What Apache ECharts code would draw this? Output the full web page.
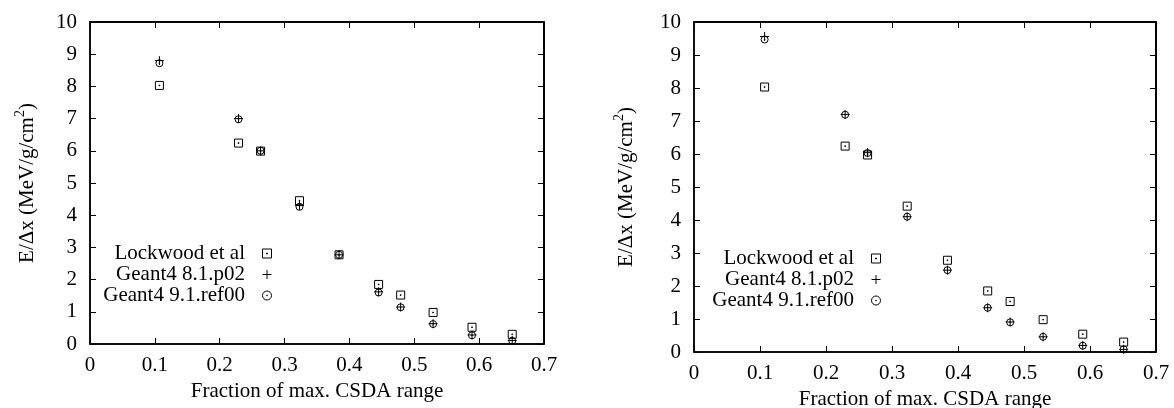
<!DOCTYPE html>
<html>
<head>
<meta charset="utf-8">
<script src="https://cdn.jsdelivr.net/npm/echarts@6/dist/echarts.min.js"></script>
<style>
  html, body { margin: 0; padding: 0; background: #fff; }
  #chart { width: 1174px; height: 408px; }
</style>
</head>
<body>
<div id="chart"></div>
<script>
// fraction of max. CSDA range (same for every series)
var fractions = [0.107, 0.229, 0.263, 0.323, 0.384, 0.445, 0.479, 0.529, 0.589, 0.651];

// left panel
var leftLockwood = [8.03, 6.24, 5.99, 4.45, 2.77, 1.85, 1.52, 0.98, 0.52, 0.30];
var leftG4_81 = [8.80, 7.00, 6.00, 4.30, 2.77, 1.62, 1.15, 0.63, 0.28, 0.11];
var leftG4_91 = [8.72, 6.98, 6.00, 4.26, 2.77, 1.60, 1.14, 0.62, 0.27, 0.10];

// right panel
var rightLockwood = [8.03, 6.24, 5.97, 4.42, 2.78, 1.85, 1.53, 0.98, 0.54, 0.30];
var rightG4_81 = [9.56, 7.20, 6.04, 4.10, 2.48, 1.34, 0.91, 0.46, 0.20, 0.08];
var rightG4_91 = [9.47, 7.19, 6.03, 4.10, 2.48, 1.34, 0.90, 0.46, 0.19, 0.08];

var seriesNames = ['Lockwood et al', 'Geant4 8.1.p02', 'Geant4 9.1.ref00'];
var xTitle = 'Fraction of max. CSDA range';
var yTitle = 'E/Δx (MeV/g/cm{sup|2})';
var xMax = 0.7, yMax = 10;

var SQUARE = 'path://M0,0L10,0L10,10L0,10Z M4.5,4.5L5.5,4.5L5.5,5.5L4.5,5.5Z';
var PLUS = 'path://M5,0L5,10M0,5L10,5';
var CIRCLE = 'path://M0,5A5,5,0,1,1,10,5A5,5,0,1,1,0,5Z M4.5,5A0.5,0.5,0,1,1,5.5,5A0.5,0.5,0,1,1,4.5,5Z';
var symbols = [SQUARE, PLUS, CIRCLE];
var symSizes = [8, 9, 7];

var FONT = 'Liberation Serif';
var FS = 21;

function pairs(ys) {
  return fractions.map(function (x, i) { return [x, ys[i]]; });
}

var chart = echarts.init(document.getElementById('chart'));

var grids = [
  { left: 90, top: 22, width: 454, height: 322, outerBoundsMode: 'none', show: true, borderColor: '#000', borderWidth: 1.5 },
  { left: 694, top: 22, width: 462, height: 330, outerBoundsMode: 'none', show: true, borderColor: '#000', borderWidth: 1.5 }
];

function axisLine() {
  return { show: true, onZero: false, lineStyle: { color: '#000', width: 1.5 } };
}
function axisTick() {
  return { show: true, inside: true, length: 6, lineStyle: { color: '#000', width: 1 } };
}

var xAxes = [], yAxes = [];
var yGaps = [49, 54];
var xGaps = [34, 35];
grids.forEach(function (g, i) {
  xAxes.push({
    gridIndex: i, type: 'value', min: 0, max: xMax, interval: 0.1,
    name: xTitle, nameLocation: 'middle', nameGap: xGaps[i],
    nameTextStyle: { fontFamily: FONT, fontSize: FS, color: '#000' },
    axisLine: axisLine(),
    axisTick: axisTick(),
    axisLabel: { fontFamily: FONT, fontSize: FS, color: '#000', margin: 11 },
    splitLine: { show: false }
  });
  // mirror axis on top: ticks only, labels invisible
  xAxes.push({
    gridIndex: i, type: 'value', position: 'top', min: 0, max: xMax, interval: 0.1,
    axisLine: axisLine(),
    axisTick: axisTick(),
    axisLabel: { color: 'rgba(0,0,0,0)' },
    splitLine: { show: false }
  });
  yAxes.push({
    gridIndex: i, type: 'value', min: 0, max: yMax, interval: 1,
    name: yTitle, nameLocation: 'middle', nameGap: yGaps[i],
    nameTextStyle: {
      fontFamily: FONT, fontSize: FS, color: '#000',
      rich: { sup: { fontFamily: FONT, fontSize: 14, color: '#000', verticalAlign: 'top', lineHeight: 28 } }
    },
    axisLine: axisLine(),
    axisTick: axisTick(),
    axisLabel: { fontFamily: FONT, fontSize: FS, color: '#000', margin: 13 },
    splitLine: { show: false }
  });
  // mirror axis on the right
  yAxes.push({
    gridIndex: i, type: 'value', position: 'right', min: 0, max: yMax, interval: 1,
    axisLine: axisLine(),
    axisTick: axisTick(),
    axisLabel: { color: 'rgba(0,0,0,0)' },
    splitLine: { show: false }
  });
});

var panelData = [
  [leftLockwood, leftG4_81, leftG4_91],
  [rightLockwood, rightG4_81, rightG4_91]
];

var series = [];
panelData.forEach(function (sets, p) {
  sets.forEach(function (ys, k) {
    var s = {
      name: seriesNames[k],
      type: 'scatter',
      xAxisIndex: p * 2,
      yAxisIndex: p * 2,
      symbol: symbols[k],
      symbolSize: symSizes[k],
      itemStyle: { color: 'transparent', borderColor: '#000', borderWidth: 1, opacity: 1 },
      data: pairs(ys)
    };
    if (k === 0) {
      // top and right frame lines, at the axis maxima
      s.markLine = {
        silent: true, symbol: 'none', animation: false,
        label: { show: false },
        lineStyle: { color: '#000', width: 1.5, type: 'solid' },
        data: [{ yAxis: yMax }, { xAxis: xMax }]
      };
    }
    series.push(s);
  });
});

function makeLegend(right, top) {
  return {
    orient: 'vertical', align: 'right', right: right, top: top, padding: 0,
    itemWidth: 34, itemHeight: 9, itemGap: 0,
    selectedMode: false,
    textStyle: { fontFamily: FONT, fontSize: FS, color: '#000' },
    itemStyle: { color: 'transparent', borderColor: '#000', borderWidth: 1 },
    data: seriesNames.map(function (n, k) { return { name: n, icon: symbols[k] }; })
  };
}

chart.setOption({
  animation: false,
  grid: grids,
  xAxis: xAxes,
  yAxis: yAxes,
  legend: [makeLegend(902, 243), makeLegend(293, 248)],
  series: series
});
</script>
</body>
</html>
